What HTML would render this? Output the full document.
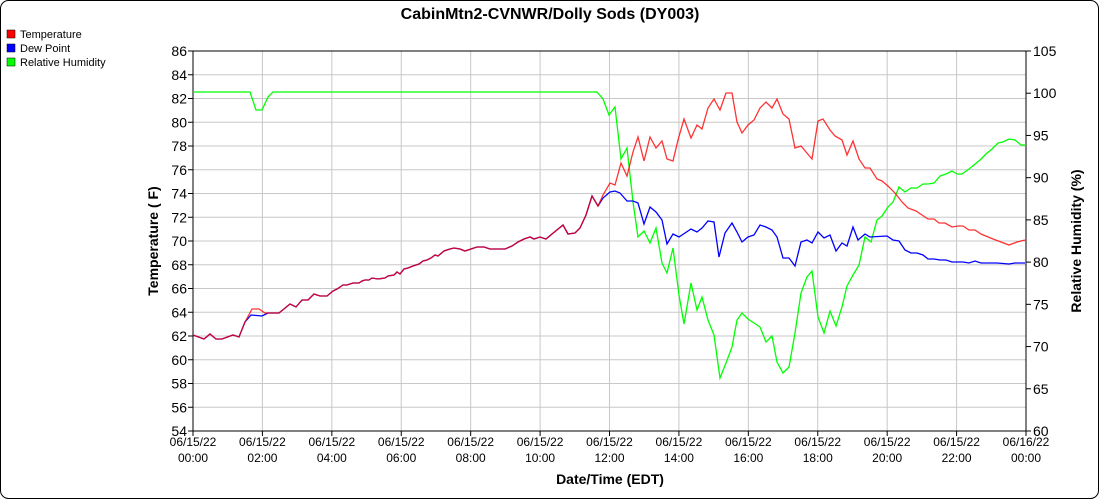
<!DOCTYPE html>
<html><head><style>body{margin:0;background:#fff}svg{display:block;font-family:"Liberation Sans",sans-serif}</style></head><body>
<svg width="1100" height="500" viewBox="0 0 1100 500" xmlns="http://www.w3.org/2000/svg">
<rect x="0.5" y="0.5" width="1098" height="498" rx="8" fill="#fff" stroke="#000"/>
<text x="550" y="19" text-anchor="middle" font-size="16" font-weight="bold">CabinMtn2-CVNWR/Dolly Sods (DY003)</text>
<g font-size="11">
<rect x="7" y="30" width="8" height="8" fill="#f00" stroke="#000" stroke-width="0.5"/><text x="20" y="38">Temperature</text>
<rect x="7" y="44" width="8" height="8" fill="#00f" stroke="#000" stroke-width="0.5"/><text x="20" y="52">Dew Point</text>
<rect x="7" y="58" width="8" height="8" fill="#0f0" stroke="#000" stroke-width="0.5"/><text x="20" y="66">Relative Humidity</text>
</g>
<g stroke="#c8c8c8" stroke-width="1" id="grid"></g>
<g id="ax"></g>
<polyline fill="none" stroke="#00ff00" stroke-width="1.3" points="193,92 250,92 256,110 262,110 268,97 273,92 597,92 603,99 609,115 615,107 621,159 627,148 633,202 638,237 644,231 650,243 656,228 662,263 667,273 673,248 679,295 684,324 691,283 697,310 702,297 708,320 714,335 720,378 726,363 732,347 737,320 742,313 748,319 754,323 760,327 766,342 772,336 777,362 783,373 789,367 795,333 801,293 807,277 812,271 818,317 824,333 830,311 836,326 842,307 847,286 853,275 859,265 865,237 871,242 877,220 882,216 888,207 893,202 899,187 905,192 911,188 917,188 923,184 928,184 934,183 940,176 946,174 952,171 957,174 962,174 969,169 980,160 986,154 992,149 998,143 1003,142 1009,139 1015,140 1021,145 1026,145"/>
<polyline fill="none" stroke="#0000ff" stroke-width="1.3" points="193,335 204,339 210,334 216,339 222,339 233,335 239,337 245,322 251,315 262,316 268,313 270,313 279,313 290,304 296,307 302,300 308,300 314,294 320,296 327,296 333,291 337,289 343,285 347,285 353,283 359,283 362,281 365,280 369,280 372,278 378,279 385,278 388,276 394,275 397,272 400,274 404,269 408,268 413,266 419,264 423,261 427,260 431,258 435,255 438,256 444,251 450,249 454,248 460,249 465,251 471,249 477,247 484,247 490,249 497,249 505,249 512,246 518,242 524,239 530,237 534,239 540,237 546,239 552,234 563,225 568,234 575,233 580,228 586,215 592,196 598,206 603,198 610,192 615,191 620,193 627,201 633,201 638,203 644,224 650,207 656,212 662,220 667,244 673,234 679,237 685,233 691,229 697,232 702,228 708,221 714,222 719,257 725,233 732,223 737,232 742,242 748,237 754,235 760,225 766,227 772,230 777,237 783,258 789,258 795,266 801,242 807,240 812,243 818,232 824,238 830,235 836,251 842,243 847,246 853,227 858,240 865,234 870,237 887,236 893,240 899,241 905,250 911,253 917,253 923,255 928,259 934,259 940,260 946,260 952,262 963,262 969,263 975,261 981,263 997,263 1009,264 1015,263 1025,263"/>
<polyline fill="none" stroke="#ff0000" stroke-opacity="0.8" stroke-width="1.3" points="193,335 204,339 210,334 216,339 222,339 233,335 239,337 245,322 252,309 259,309 265,313 270,313 279,313 290,304 296,307 302,300 308,300 314,294 320,296 327,296 333,291 337,289 343,285 347,285 353,283 359,283 362,281 365,280 369,280 372,278 378,279 385,278 388,276 394,275 397,272 400,274 404,269 408,268 413,266 419,264 423,261 427,260 431,258 435,255 438,256 444,251 450,249 454,248 460,249 465,251 471,249 477,247 484,247 490,249 497,249 505,249 512,246 518,242 524,239 530,237 534,239 540,237 546,239 552,234 563,225 568,234 575,233 580,228 586,215 592,196 598,206 603,195 610,183 615,185 621,163 627,176 633,152 638,137 644,161 650,137 656,148 662,141 667,159 673,161 678,140 684,119 691,138 697,125 702,129 708,108 714,99 720,110 726,93 732,93 737,122 742,133 748,125 754,120 760,108 766,102 772,108 777,99 783,114 789,119 795,148 801,146 812,159 818,121 823,119 830,130 835,136 842,140 847,155 853,141 859,159 865,168 870,168 877,179 882,181 888,186 895,193 902,202 908,208 916,211 922,215 928,219 934,219 939,223 945,223 952,227 958,226 963,226 969,230 975,230 981,234 993,239 1009,245 1017,242 1025,240"/>
<text transform="translate(158,241) rotate(-90)" text-anchor="middle" font-size="14" font-weight="bold">Temperature ( F)</text>
<text transform="translate(1081,241) rotate(-90)" text-anchor="middle" font-size="14" font-weight="bold">Relative Humidity (%)</text>
<text x="610" y="484" text-anchor="middle" font-size="14" font-weight="bold">Date/Time (EDT)</text>
</svg>
<script>
const ns="http://www.w3.org/2000/svg";
const g=document.getElementById('grid'),a=document.getElementById('ax');
const L=193,R=1026,T=51,B=431;
function el(p,t,at,txt){const e=document.createElementNS(ns,t);for(const k in at)e.setAttribute(k,at[k]);if(txt!=null)e.textContent=txt;p.appendChild(e);return e;}
for(let v=54;v<=86;v+=2){const y=B-(v-54)*380/32;el(g,'line',{x1:L,x2:R,y1:y,y2:y});el(a,'line',{x1:L-5,x2:L,y1:y,y2:y,stroke:'#000'});el(a,'text',{x:L-6,y:y+5,'text-anchor':'end','font-size':14},v);}
const lab=['00:00','02:00','04:00','06:00','08:00','10:00','12:00','14:00','16:00','18:00','20:00','22:00','00:00'];
for(let i=0;i<=12;i++){const x=L+i*(R-L)/12;el(g,'line',{x1:x,x2:x,y1:T,y2:B});el(a,'line',{x1:x,x2:x,y1:B,y2:B+5,stroke:'#000'});el(a,'text',{x:x,y:446,'text-anchor':'middle','font-size':12},i==12?'06/16/22':'06/15/22');el(a,'text',{x:x,y:462,'text-anchor':'middle','font-size':12},lab[i]);}
for(let v=60;v<=105;v+=5){const y=B-(v-60)*380/45;el(a,'line',{x1:R,x2:R+5,y1:y,y2:y,stroke:'#000'});el(a,'text',{x:R+7,y:y+5,'font-size':14},v);}
el(a,'rect',{x:L,y:T,width:R-L,height:B-T,fill:'none',stroke:'#000'});
</script>
</body></html>
